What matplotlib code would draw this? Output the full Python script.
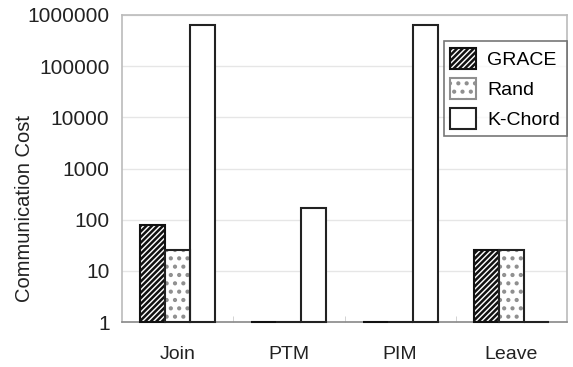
import matplotlib
matplotlib.use("Agg")
import matplotlib.pyplot as plt
from matplotlib.patches import Patch
import numpy as np

categories = ["Join", "PTM", "PIM", "Leave"]
grace = [78, 1, 1, 26]
rand = [26, 1, 1, 26]
kchord = [650000, 170, 650000, 1]
series_names = ["GRACE", "Rand", "K-Chord"]

plt.rcParams['font.family'] = ['Liberation Sans', 'DejaVu Sans']
plt.rcParams['hatch.linewidth'] = 1.8

fig = plt.figure(figsize=(5.73, 3.67), dpi=100)
ax = fig.add_axes([122/573, 1 - 322/367, (567-122)/573, (322-15)/367])

x = np.arange(len(categories))
w = 0.225
ec = '#222222'
dotc = '#8f8f8f'

def heights(v):
    return [max(val - 1, 0) for val in v]

b1 = ax.bar(x - w, heights(grace), w, bottom=1, color='white', edgecolor='#111111', hatch='//////', linewidth=1.5, zorder=3)
b2h = ax.bar(x, heights(rand), w, bottom=1, color='white', edgecolor=dotc, hatch='..', linewidth=0, zorder=3)
b2 = ax.bar(x, heights(rand), w, bottom=1, color='none', edgecolor=ec, linewidth=1.5, zorder=3.5)
b3 = ax.bar(x + w, heights(kchord), w, bottom=1, color='white', edgecolor=ec, linewidth=1.5, zorder=3)
for bars in (b1, b2, b3):
    for p in bars:
        p.set_clip_on(False)

ax.set_yscale('log')
ax.set_ylim(1, 1e6)
ax.set_xlim(-0.5, len(categories) - 0.5)
ax.set_yticks([1, 10, 100, 1000, 10000, 100000, 1000000])
ax.set_yticklabels(["1", "10", "100", "1000", "10000", "100000", "1000000"])
ax.yaxis.set_minor_locator(matplotlib.ticker.NullLocator())
ax.set_xticks(x)
ax.set_xticklabels(categories)
ax.set_xticks(np.arange(len(categories) - 1) + 0.5, minor=True)
ax.tick_params(axis='y', length=0, pad=9, labelsize=15, colors='#222222')
ax.tick_params(axis='x', which='major', length=0, pad=17, labelsize=14, colors='#222222')
ax.tick_params(axis='x', which='minor', length=4, direction='in', color='#cccccc')
ax.grid(axis='y', color='#e6e6e6', linewidth=1, zorder=0)
for s in ['top', 'left', 'right']:
    ax.spines[s].set_color('#bbbbbb')
    ax.spines[s].set_linewidth(1.2)
ax.spines['bottom'].set_color('#888888')
ax.spines['bottom'].set_linewidth(1.2)
ax.set_ylabel("Communication Cost", fontsize=14.5, color='#222222')
ax.yaxis.set_label_coords(-0.198, 0.37)

handles = [
    Patch(facecolor='white', edgecolor='#111111', hatch='//////', linewidth=1.5),
    Patch(facecolor='white', edgecolor=dotc, hatch='..', linewidth=1.5),
    Patch(facecolor='white', edgecolor=ec, linewidth=1.5),
]
leg = ax.legend(handles, series_names, loc='upper right', bbox_to_anchor=(1.0, 0.915), fontsize=14, frameon=True,
                fancybox=False, edgecolor='#555555', borderpad=0.35, labelspacing=0.45,
                handlelength=1.3, handleheight=1.3, handletextpad=0.6, borderaxespad=0)
leg.get_frame().set_linewidth(1.2)

fig.savefig("out.png", dpi=100)
